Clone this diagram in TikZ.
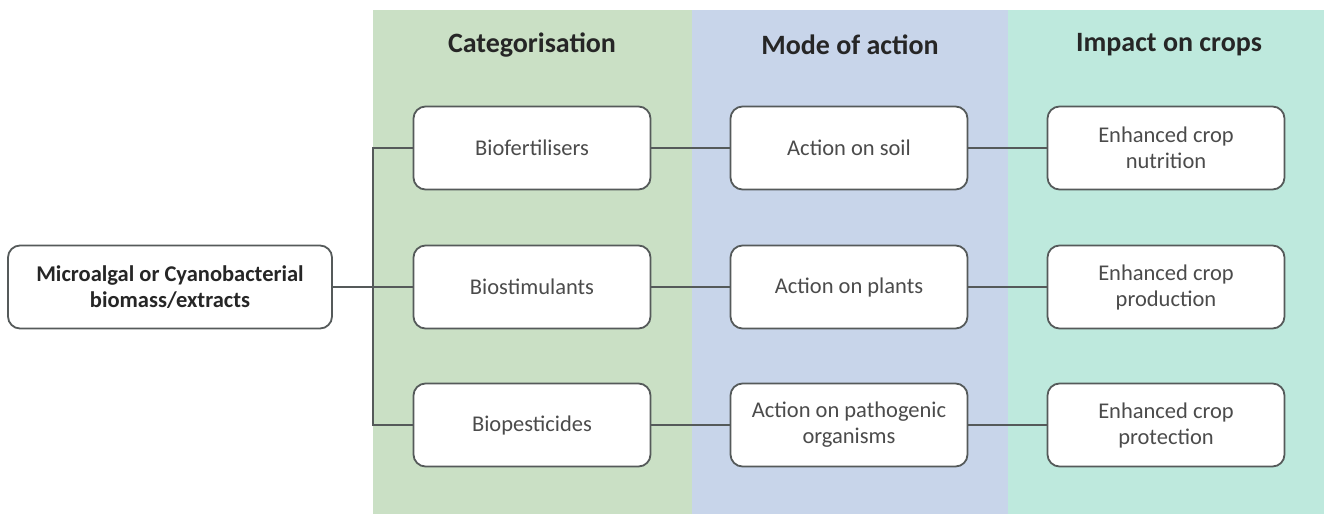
\documentclass[tikz,border=0pt]{standalone}
\usepackage{fontspec}
\setmainfont{Carlito}
\usepackage{tikz}
\definecolor{catgreen}{RGB}{202,224,197}
\definecolor{modeblue}{RGB}{200,213,234}
\definecolor{croptea}{RGB}{190,233,221}
\definecolor{rim}{RGB}{85,90,90}
\definecolor{txt}{RGB}{75,75,75}

\begin{document}
\begin{tikzpicture}[x=1pt,y=-1pt,
  box/.style={draw=rim,line width=1.8pt,rounded corners=12pt,fill=white,
    minimum width=237pt,minimum height=83pt,align=center,text=txt,
    font=\fontsize{22.5}{26}\selectfont},
  head/.style={text=black!85,font=\fontsize{28}{32}\selectfont\bfseries},
  link/.style={draw=rim,line width=1.8pt}]
\useasboundingbox (0,0) rectangle (1324,514);
\fill[catgreen] (373,10) rectangle (692,514);
\fill[modeblue] (692,10) rectangle (1008,514);
\fill[croptea] (1008,10) rectangle (1324,514);
\node[head] (h1) at (532,45) {Categorisation};
\node[head] (h2) at (850,45) {Mode of action};
\node[head] (h3) at (1169,45) {Impact on crops};
\node[box,minimum width=324pt,font=\fontsize{22.5}{26}\selectfont\bfseries,text=black!85] (src) at (170,287) {Microalgal or Cyanobacterial\\biomass/extracts};
\node[box] (c1) at (532,148) {Biofertilisers};
\node[box] (c2) at (532,287) {Biostimulants};
\node[box] (c3) at (532,425) {Biopesticides};
\node[box] (m1) at (849,148) {Action on soil};
\node[box] (m2) at (849,287) {Action on plants};
\node[box] (m3) at (849,425) {Action on pathogenic\\organisms};
\node[box] (i1) at (1166,148) {Enhanced crop\\nutrition};
\node[box] (i2) at (1166,287) {Enhanced crop\\production};
\node[box] (i3) at (1166,425) {Enhanced crop\\protection};
\coordinate (t1) at (373,148);
\coordinate (t3) at (373,425);
\draw[link] (src) -- (c2);
\draw[link] (c1) -- (t1) -- (t3) -- (c3);
\draw[link] (c1) -- (m1);
\draw[link] (c2) -- (m2);
\draw[link] (c3) -- (m3);
\draw[link] (m1) -- (i1);
\draw[link] (m2) -- (i2);
\draw[link] (m3) -- (i3);
\end{tikzpicture}
\end{document}
